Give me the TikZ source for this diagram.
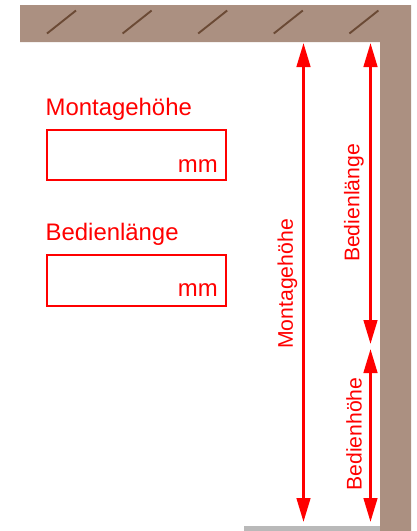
\documentclass[tikz,border=0pt]{standalone}
\usepackage{fontspec}
\setmainfont{Liberation Sans}
\usetikzlibrary{arrows.meta}
\definecolor{wall}{HTML}{AB9081}
\definecolor{hatch}{HTML}{6B4A35}
\definecolor{floorgrey}{HTML}{B9B9B9}
\tikzset{
  wallfill/.style={fill=wall,draw=none},
  hatchline/.style={draw=hatch,line width=1.9pt},
  dimarrow/.style={draw=red,line width=3pt,{Triangle[length=24pt,width=13.5pt]}-{Triangle[length=24pt,width=13.5pt]},shorten >=0pt,shorten <=0pt},
  dimtext/.style={text=red,font=\fontsize{21.2}{21.2}\selectfont,inner sep=0pt,rotate=90,anchor=center},
  labeltext/.style={text=red,font=\fontsize{23.9}{24}\selectfont,inner sep=0pt,anchor=base west},
  unittext/.style={text=red,font=\fontsize{23.9}{24}\selectfont,inner sep=0pt,anchor=base east},
  inputbox/.style={draw=red,line width=2pt,fill=white,minimum width=179pt,minimum height=50.5pt,inner sep=0pt,outer sep=0pt,anchor=north west}
}
\begin{document}
\begin{tikzpicture}[x=1pt,y=-1pt]
\useasboundingbox (0,0) rectangle (417,531);
\fill[white] (0,0) rectangle (417,531);
% walls and floor
\fill[floorgrey] (244,526) rectangle (380,531);
\fill[wallfill] (20,5) -- (411,5) -- (411,531) -- (380,531) -- (380,42) -- (20,42) -- cycle;
% hatching
\foreach \hx in {47,122.6,198.2,273.8,349.4}{
  \draw[hatchline] (\hx,33.5) -- (\hx+29,10.5);
}
% labels and boxes
\node[labeltext] (lblM) at (45.5,115.5) {Montagehöhe};
\node[inputbox] (boxM) at (46.5,129.5) {};
\node[unittext] (mmM) at (218,172) {mm};
\node[labeltext] (lblB) at (45.5,240) {Bedienlänge};
\node[inputbox] (boxB) at (46.5,255) {};
\node[unittext] (mmB) at (218,296) {mm};
% dimension end points
\coordinate (mTop) at (303.5,43);
\coordinate (mBot) at (303.5,522);
\coordinate (lTop) at (370.5,43);
\coordinate (lBot) at (370.5,344);
\coordinate (hTop) at (370.5,349);
\coordinate (hBot) at (370.5,522);
\draw[dimarrow] (mTop) -- (mBot);
\draw[dimarrow] (lTop) -- (lBot);
\draw[dimarrow] (hTop) -- (hBot);
\node[dimtext] (tM) at (287.5,284) {Montagehöhe};
\node[dimtext] (tL) at (354,203) {Bedienlänge};
\node[dimtext] (tH) at (354,434) {Bedienhöhe};
\end{tikzpicture}
\end{document}
